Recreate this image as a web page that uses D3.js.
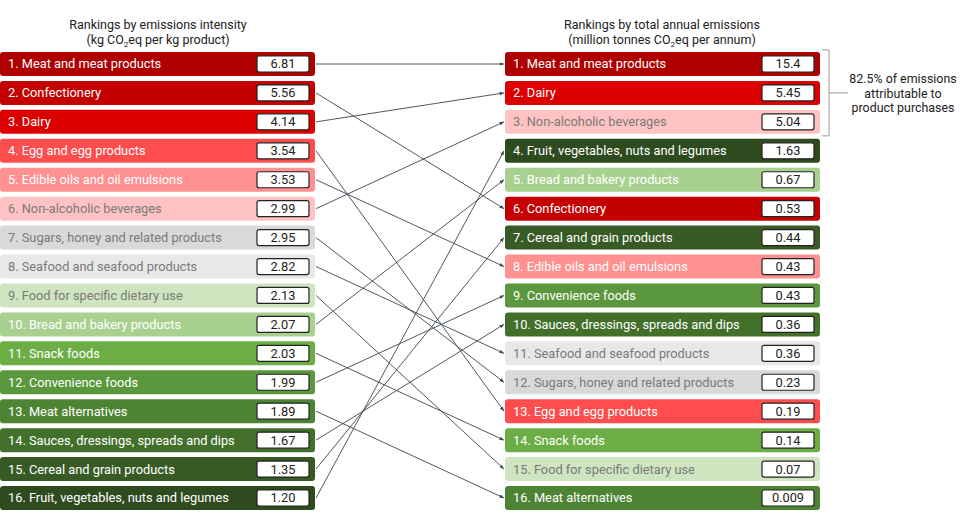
<!DOCTYPE html>
<html>
<head>
<meta charset="utf-8">
<script src="https://cdn.jsdelivr.net/npm/d3@7"></script>
<style>
  html, body { margin: 0; padding: 0; background: #ffffff; }
  svg { display: block; font-family: Roboto, "Noto Sans", sans-serif; }
</style>
</head>
<body>
<svg id="chart" width="960" height="530"></svg>
<script>
// ---- Data ----
const categories = [
  "Meat and meat products", "Confectionery", "Dairy", "Egg and egg products",
  "Edible oils and oil emulsions", "Non-alcoholic beverages",
  "Sugars, honey and related products", "Seafood and seafood products",
  "Food for specific dietary use", "Bread and bakery products", "Snack foods",
  "Convenience foods", "Meat alternatives", "Sauces, dressings, spreads and dips",
  "Cereal and grain products", "Fruit, vegetables, nuts and legumes"
];
// left ranking: emissions intensity (kg CO2eq per kg product), in category order
const intensityValues = ["6.81","5.56","4.14","3.54","3.53","2.99","2.95","2.82","2.13","2.07","2.03","1.99","1.89","1.67","1.35","1.20"];
// right ranking: total annual emissions (million tonnes CO2eq per annum)
const totalOrder = [
  "Meat and meat products", "Dairy", "Non-alcoholic beverages",
  "Fruit, vegetables, nuts and legumes", "Bread and bakery products", "Confectionery",
  "Cereal and grain products", "Edible oils and oil emulsions", "Convenience foods",
  "Sauces, dressings, spreads and dips", "Seafood and seafood products",
  "Sugars, honey and related products", "Egg and egg products", "Snack foods",
  "Food for specific dietary use", "Meat alternatives"
];
const totalValues = ["15.4","5.45","5.04","1.63","0.67","0.53","0.44","0.43","0.43","0.36","0.36","0.23","0.19","0.14","0.07","0.009"];
const fillColors = ["#ae0000","#c40000","#dc0000","#ff4d4d","#ff9191","#ffc3c3","#d9d9d9","#e8e8e8","#cfe5bf","#a8d190","#6cad46","#5b973c","#4c8433","#42702b","#385b26","#2e4a1f"];
const textColors = ["#fff","#fff","#fff","#fff","#fff","#7a7a7a","#7a7a7a","#7a7a7a","#7a7a7a","#fff","#fff","#fff","#fff","#fff","#fff","#fff"];
const bracketText = ["82.5% of emissions", "attributable to", "product purchases"];

// ---- Layout ----
const svg = d3.select("#chart");
const rank = d3.scaleLinear().domain([0, 15]).range([64, 498]);
const barH = 24;
const leftX = d3.scaleLinear().domain([0, 1]).range([0, 315]);
const rightX = d3.scaleLinear().domain([0, 1]).range([505, 820]);
const color = d3.scaleOrdinal().domain(categories).range(fillColors);
const tcolor = d3.scaleOrdinal().domain(categories).range(textColors);

const leftRows = categories.map((c, i) => ({ name: c, rank: i, value: intensityValues[i] }));
const rightRows = totalOrder.map((c, i) => ({ name: c, rank: i, value: totalValues[i] }));
const rightRank = new Map(rightRows.map(d => [d.name, d.rank]));

// arrow marker
svg.append("defs").append("marker")
  .attr("id", "arrow").attr("viewBox", "0 0 10 10").attr("refX", 10).attr("refY", 5)
  .attr("markerWidth", 5).attr("markerHeight", 5).attr("orient", "auto")
  .append("path").attr("d", "M0,1 L10,5 L0,9 Z").attr("fill", "#3c4650");

// connectors
svg.append("g").selectAll("line").data(leftRows).join("line")
  .attr("x1", leftX(1) + 1).attr("y1", d => rank(d.rank))
  .attr("x2", rightX(0) - 1).attr("y2", d => rank(rightRank.get(d.name)))
  .attr("stroke", "#3c4650").attr("stroke-width", 0.9)
  .attr("marker-end", "url(#arrow)");

function drawColumn(rows, xs, boxX0, boxX1) {
  const g = svg.append("g");
  const row = g.selectAll("g").data(rows).join("g");
  row.append("rect")
    .attr("x", xs(0)).attr("width", xs(1) - xs(0))
    .attr("y", d => rank(d.rank) - barH / 2).attr("height", barH)
    .attr("rx", 3).attr("fill", d => color(d.name));
  row.append("text")
    .attr("x", xs(0) + 8).attr("y", d => rank(d.rank))
    .attr("dy", "0.35em").attr("font-size", 12.8)
    .attr("fill", d => tcolor(d.name))
    .text(d => (d.rank + 1) + ". " + d.name);
  row.append("rect")
    .attr("x", boxX0).attr("width", boxX1 - boxX0)
    .attr("y", d => rank(d.rank) - 8).attr("height", 16)
    .attr("rx", 2).attr("fill", "#fff").attr("stroke", "#222").attr("stroke-width", 1.2);
  row.append("text")
    .attr("x", (boxX0 + boxX1) / 2).attr("y", d => rank(d.rank))
    .attr("dy", "0.35em").attr("text-anchor", "middle").attr("font-size", 12.8)
    .attr("fill", "#222").text(d => d.value);
}
drawColumn(leftRows, leftX, 257, 309);
drawColumn(rightRows, rightX, 762, 814);

// headers
function header(cx, line1, unitPre, unitPost) {
  const t = svg.append("text").attr("x", cx).attr("text-anchor", "middle")
    .attr("font-size", 12.5).attr("fill", "#222");
  t.append("tspan").attr("x", cx).attr("y", 29).text(line1);
  const t2 = svg.append("text").attr("x", cx).attr("y", 44).attr("text-anchor", "middle")
    .attr("font-size", 12.5).attr("fill", "#222");
  t2.append("tspan").text(unitPre + "CO");
  t2.append("tspan").attr("font-size", 8).attr("dy", 3).text("2");
  t2.append("tspan").attr("dy", -3).text("eq " + unitPost);
}
header(158, "Rankings by emissions intensity", "(kg ", "per kg product)");
header(662, "Rankings by total annual emissions", "(million tonnes ", "per annum)");

// bracket
const bTop = rank(0) - barH / 2 - 2, bBot = rank(2) + barH / 2 + 2, bx = 829;
svg.append("path")
  .attr("d", `M${rightX(1) + 2},${bTop} H${bx} V${bBot} H${rightX(1) + 2} M${bx},${(bTop + bBot) / 2} H${848}`)
  .attr("fill", "none").attr("stroke", "#999").attr("stroke-width", 1);
svg.append("g").selectAll("text").data(bracketText).join("text")
  .attr("x", 903).attr("y", (d, i) => (bTop + bBot) / 2 - 14 + i * 14.5)
  .attr("dy", "0.35em").attr("text-anchor", "middle").attr("font-size", 12.4)
  .attr("fill", "#222").text(d => d);
</script>
</body>
</html>
